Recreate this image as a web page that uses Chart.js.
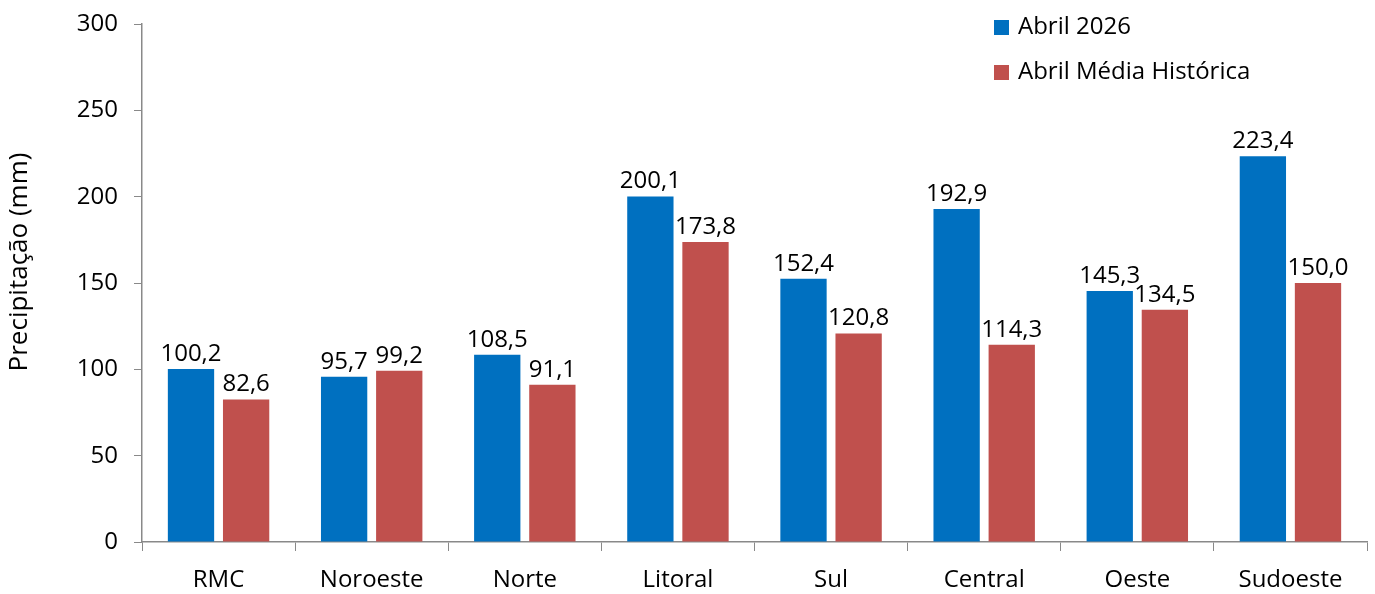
<!DOCTYPE html>
<html>
<head>
<meta charset="utf-8">
<script src="https://cdn.jsdelivr.net/npm/chart.js@4.4.0/dist/chart.umd.min.js"></script>
<style>
  html, body { margin: 0; padding: 0; background: #fff; }
  #wrap { width: 1375px; height: 594px; }
</style>
</head>
<body>
<div id="wrap"><canvas id="barChart"></canvas></div>
<script>
const regioes = ['RMC', 'Noroeste', 'Norte', 'Litoral', 'Sul', 'Central', 'Oeste', 'Sudoeste'];
const abril2026 = [100.2, 95.7, 108.5, 200.1, 152.4, 192.9, 145.3, 223.4];
const mediaHistorica = [82.6, 99.2, 91.1, 173.8, 120.8, 114.3, 134.5, 150.0];
const yTicks = [0, 50, 100, 150, 200, 250, 300];

const fonte = '"Open Sans", "Noto Sans", sans-serif';
Chart.defaults.font.family = fonte;
Chart.defaults.color = '#000';

// valores em cima das barras, com virgula decimal
const rotulos = {
    id: 'rotulos',
    afterDatasetsDraw(chart) {
        const c = chart.ctx;
        c.save();
        c.font = '24px ' + fonte;
        c.fillStyle = '#000';
        c.textAlign = 'center';
        c.textBaseline = 'alphabetic';
        chart.data.datasets.forEach((ds, i) => {
            chart.getDatasetMeta(i).data.forEach((bar, j) => {
                c.fillText(ds.data[j].toFixed(1).replace('.', ','), bar.x, bar.y - 8);
            });
        });
        c.restore();
    }
};

// legenda vertical dentro do grafico + titulo do eixo y
const legenda = {
    id: 'legenda',
    afterDraw(chart) {
        const c = chart.ctx;
        c.save();
        c.font = '24px ' + fonte;
        c.textBaseline = 'middle';
        chart.data.datasets.forEach((ds, i) => {
            const y = 27 + i * 45;
            c.fillStyle = ds.backgroundColor;
            c.fillRect(994, y - 7, 15, 15);
            c.fillStyle = '#000';
            c.fillText(ds.label, 1018, y);
        });
        c.translate(20, 262);
        c.rotate(-Math.PI / 2);
        c.font = '26px ' + fonte;
        c.textAlign = 'center';
        c.fillText('Precipitação (mm)', 0, 0);
        c.restore();
    }
};

const ctx1 = document.getElementById('barChart').getContext('2d');
new Chart(ctx1, {
    type: 'bar',
    data: {
        labels: regioes,
        datasets: [{
            label: 'Abril 2026',
            data: abril2026,
            backgroundColor: '#0070C0',
            categoryPercentage: 0.72,
            barPercentage: 0.84
        }, {
            label: 'Abril Média Histórica',
            data: mediaHistorica,
            backgroundColor: '#C0504D',
            categoryPercentage: 0.72,
            barPercentage: 0.84
        }]
    },
    options: {
        responsive: true,
        maintainAspectRatio: false,
        animation: false,
        layout: {
            padding: { top: 24, right: 8, left: 0, bottom: 0 }
        },
        plugins: {
            legend: { display: false },
            tooltip: { enabled: false }
        },
        scales: {
            x: {
                offset: true,
                afterFit(axis) {
                    axis.height = 52;
                },
                grid: {
                    offset: true,
                    drawOnChartArea: false,
                    drawTicks: true,
                    tickLength: 9,
                    color: '#898989'
                },
                border: { color: '#898989', width: 1.5 },
                ticks: { font: { size: 24 }, padding: 15, maxRotation: 0 }
            },
            y: {
                min: 0,
                max: 300,
                afterBuildTicks(axis) {
                    axis.ticks = yTicks.map(v => ({ value: v }));
                },
                afterFit(axis) {
                    axis.paddingTop = 0;
                    axis.paddingBottom = 0;
                    axis.width = 142;
                },
                grid: {
                    drawOnChartArea: false,
                    drawTicks: true,
                    tickLength: 8,
                    color: '#898989'
                },
                border: { color: '#898989', width: 1.5 },
                ticks: { font: { size: 24 }, padding: 16 }
            }
        }
    },
    plugins: [rotulos, legenda]
});
</script>
</body>
</html>
